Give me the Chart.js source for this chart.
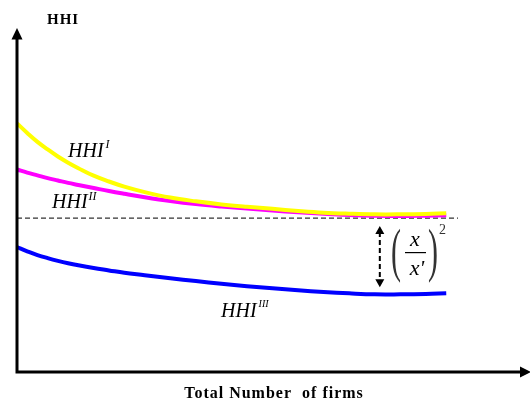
<!DOCTYPE html>
<html>
<head>
<meta charset="utf-8">
<script src="https://cdn.jsdelivr.net/npm/chart.js@4.4.1/dist/chart.umd.min.js"></script>
<style>
  html, body { margin: 0; padding: 0; background: #fff; }
  #wrap { width: 530px; height: 401px; }
</style>
</head>
<body>
<div id="wrap"><canvas id="c" width="530" height="401"></canvas></div>
<script>
// ---- data ----
const firms  = [0, 2, 4, 6, 8, 10, 12, 15, 18, 21, 25, 30, 35, 40, 45, 50, 55, 60, 65, 70, 75, 80, 84];
const hhiI   = [72.7, 69.9, 67.3, 65.1, 63.0, 61.2, 59.6, 57.4, 55.7, 54.2, 52.6, 51.0, 49.9, 49.0, 48.3, 47.7, 47.1, 46.6, 46.3, 46.1, 46.1, 46.2, 46.4];
const hhiII  = [59.2, 58.3, 57.5, 56.7, 56.0, 55.3, 54.7, 53.8, 52.9, 52.1, 51.1, 50.0, 49.1, 48.4, 47.8, 47.2, 46.7, 46.3, 45.9, 45.7, 45.6, 45.7, 45.8];
const hhiIII = [36.5, 35.3, 34.2, 33.3, 32.5, 31.8, 31.2, 30.4, 29.7, 29.0, 28.3, 27.4, 26.6, 25.8, 25.1, 24.5, 23.9, 23.4, 23.0, 22.7, 22.7, 22.8, 23.0];
const refFirms = [0, 86.3];
const refLevel = [45.0, 45.0];
const gapFirm = 71;          // where the (x/x')^2 gap is marked
const yTitle = 'HHI';
const xTitle = 'Total Number  of firms';

const pts = (xs, ys) => xs.map((x, i) => ({ x, y: ys[i] }));

const overlay = {
  id: 'overlay',
  afterDraw(chart) {
    const ctx = chart.ctx;
    const xs = chart.scales.x, ys = chart.scales.y;
    const a = chart.chartArea;
    ctx.save();

    // axes
    ctx.strokeStyle = '#000';
    ctx.fillStyle = '#000';
    ctx.lineWidth = 3;
    ctx.beginPath();
    ctx.moveTo(a.left, a.bottom + 1.5);
    ctx.lineTo(a.left, a.top + 8);
    ctx.moveTo(a.left - 1.5, a.bottom);
    ctx.lineTo(a.right - 4, a.bottom);
    ctx.stroke();
    // y arrow head
    ctx.beginPath();
    ctx.moveTo(a.left, a.top - 2);
    ctx.lineTo(a.left - 5.5, a.top + 9.5);
    ctx.lineTo(a.left + 5.5, a.top + 9.5);
    ctx.closePath();
    ctx.fill();
    // x arrow head
    ctx.beginPath();
    ctx.moveTo(a.right + 3, a.bottom);
    ctx.lineTo(a.right - 8, a.bottom - 5.5);
    ctx.lineTo(a.right - 8, a.bottom + 5.5);
    ctx.closePath();
    ctx.fill();

    // vertical double arrow
    const gx = xs.getPixelForValue(gapFirm);
    const top = ys.getPixelForValue(refLevel[0]) + 8;
    const bot = ys.getPixelForValue(Math.min(...hhiIII)) - 7;
    ctx.lineWidth = 2;
    ctx.setLineDash([5, 3]);
    ctx.beginPath();
    ctx.moveTo(gx, top + 6);
    ctx.lineTo(gx, bot - 6);
    ctx.stroke();
    ctx.setLineDash([]);
    ctx.beginPath();
    ctx.moveTo(gx, top); ctx.lineTo(gx - 4.5, top + 8); ctx.lineTo(gx + 4.5, top + 8); ctx.closePath();
    ctx.moveTo(gx, bot); ctx.lineTo(gx - 4.5, bot - 8); ctx.lineTo(gx + 4.5, bot - 8); ctx.closePath();
    ctx.fill();

    // titles
    ctx.fillStyle = '#000';
    ctx.textBaseline = 'alphabetic';
    ctx.textAlign = 'left';
    ctx.font = 'bold 15px "Liberation Serif"';
    try { ctx.letterSpacing = '1px'; } catch (e) {}
    ctx.fillText(yTitle, 47, 24);
    ctx.font = 'bold 16px "Liberation Serif"';
    ctx.textAlign = 'center';
    ctx.fillText(xTitle, 274, 398);
    try { ctx.letterSpacing = '0px'; } catch (e) {}

    // curve labels
    ctx.textAlign = 'left';
    const label = (x, y, sup, supSize, dx, dy) => {
      ctx.font = 'italic 20px "Liberation Serif"';
      ctx.fillText('HHI', x, y);
      const w = ctx.measureText('HHI').width;
      ctx.font = 'italic ' + supSize + 'px "Liberation Serif"';
      ctx.fillText(sup, x + w + dx, y + dy);
    };
    label(68, 157, 'I', 12, 2, -9);
    label(52, 208, 'II', 12, 1, -8);
    label(221, 317, 'III', 10, 2, -10);

    // (x / x')^2
    ctx.fillStyle = '#333';
    ctx.font = '30px "Liberation Serif"';
    ctx.save();
    ctx.translate(391, 270);
    ctx.scale(1, 1.95);
    ctx.fillText('(', 0, 0);
    ctx.restore();
    ctx.save();
    ctx.translate(428, 270);
    ctx.scale(1, 1.95);
    ctx.fillText(')', 0, 0);
    ctx.restore();
    ctx.fillStyle = '#000';
    ctx.textAlign = 'center';
    ctx.font = 'italic 22px "Liberation Serif"';
    ctx.fillText('x', 415, 246);
    ctx.fillText("x'", 417, 275);
    ctx.fillRect(405, 252, 21, 1.2);
    ctx.textAlign = 'left';
    ctx.font = '14px "Liberation Serif"';
    ctx.fillStyle = '#333';
    ctx.fillText('2', 439, 234);

    ctx.restore();
  }
};

new Chart(document.getElementById('c'), {
  type: 'line',
  data: {
    datasets: [
      { data: pts(firms, hhiI),   borderColor: '#FFFF00', borderWidth: 4, order: 1 },
      { data: pts(firms, hhiII),  borderColor: '#FF00FF', borderWidth: 4, order: 2 },
      { data: pts(firms, hhiIII), borderColor: '#0000FF', borderWidth: 4, order: 3 },
      { data: pts(refFirms, refLevel), borderColor: '#333', borderWidth: 1.3, borderDash: [5, 3], order: 4, tension: 0 }
    ]
  },
  options: {
    responsive: false,
    animation: false,
    events: [],
    layout: { padding: { left: 17, right: 2, top: 30, bottom: 29 } },
    elements: {
      point: { radius: 0 },
      line: { tension: 0.4, fill: false, borderCapStyle: 'butt', borderJoinStyle: 'round' }
    },
    plugins: { legend: { display: false }, tooltip: { enabled: false }, title: { display: false } },
    scales: {
      x: { type: 'linear', min: 0, max: 100, display: false },
      y: { type: 'linear', min: 0, max: 100, display: false }
    }
  },
  plugins: [overlay]
});
</script>
</body>
</html>
